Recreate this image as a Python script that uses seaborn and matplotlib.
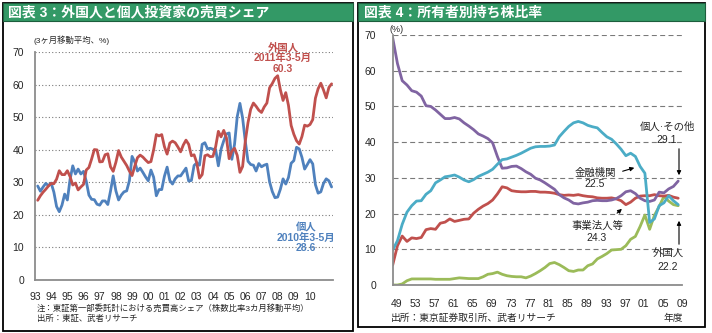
import numpy as np
import pandas as pd
import matplotlib
matplotlib.use("Agg")
import matplotlib.pyplot as plt
import seaborn as sns
from matplotlib.patches import Rectangle, FancyArrowPatch
from matplotlib.ticker import FixedLocator, NullFormatter

# ---------------- data ----------------
# Fig.3: TSE 1st section trading share, 3-month moving average (%), bimonthly from Mar 1993
share_start = "1993-03-01"
foreign_share = [
    24.5, 25.9, 27.0, 27.9, 28.9, 29.7, 29.6, 31.0, 33.6, 32.4,
    32.4, 33.6, 31.8, 29.2, 29.8, 27.7, 28.6, 29.4, 33.8, 34.6,
    37.2, 40.1, 40.0, 36.3, 36.4, 38.5, 38.8, 34.8, 33.4, 36.2,
    39.8, 37.8, 36.5, 35.2, 33.5, 32.1, 35.0, 37.6, 38.4, 37.8,
    36.9, 36.1, 36.4, 40.0, 44.7, 44.3, 44.7, 41.0, 38.7, 42.1,
    42.7, 42.2, 40.9, 39.4, 41.5, 43.0, 41.7, 38.2, 38.5, 36.0,
    31.3, 32.4, 38.2, 38.5, 37.9, 38.0, 41.0, 45.7, 44.0, 46.0,
    43.7, 37.3, 39.6, 40.5, 38.3, 33.1, 34.9, 42.7, 48.4, 52.5,
    54.4, 53.4, 52.2, 51.5, 53.2, 54.4, 59.1, 60.4, 62.0, 62.8,
    58.5, 55.2, 57.6, 53.7, 47.5, 44.8, 42.8, 41.8, 44.1, 47.6,
    47.3, 47.8, 49.3, 55.9, 58.8, 60.5, 58.4, 56.0, 59.2, 60.3,
]
individual_share = [
    28.9, 27.3, 28.6, 29.7, 29.0, 29.8, 27.0, 22.6, 21.0, 23.0,
    26.4, 24.6, 30.9, 35.1, 32.6, 34.1, 32.6, 33.4, 30.4, 26.1,
    24.8, 24.7, 23.3, 23.0, 24.3, 24.3, 23.2, 27.3, 32.0, 27.4,
    24.6, 26.1, 27.1, 27.4, 30.5, 38.0, 36.3, 33.5, 34.4, 33.1,
    31.7, 30.5, 33.8, 31.6, 25.9, 27.8, 27.8, 31.9, 34.7, 30.6,
    29.5, 31.1, 32.0, 32.0, 33.2, 34.4, 30.4, 30.6, 35.2, 36.0,
    35.3, 41.7, 42.2, 40.3, 40.5, 40.2, 40.1, 35.1, 40.2, 42.8,
    44.9, 45.2, 37.1, 41.7, 50.2, 54.3, 49.8, 42.6, 36.5, 35.5,
    35.3, 33.5, 35.8, 34.8, 35.3, 35.6, 30.2, 27.2, 25.3, 25.5,
    27.9, 31.1, 29.5, 31.5, 35.9, 36.7, 40.8, 40.3, 37.7, 34.1,
    35.5, 37.0, 35.7, 29.3, 26.7, 27.1, 29.7, 31.1, 30.5, 28.6,
]
share_tick_years = list(range(1993, 2011))
share_tick_labels = [f"{y % 100:02d}" for y in share_tick_years]

# Fig.4: share ownership ratio by owner type (%), fiscal years
own_years = list(range(1949, 2010))
own_individual = [
    69.2, 62.0, 57.2, 56.0, 54.4, 54.0, 52.9, 50.2, 50.0, 49.0,
    47.8, 46.6, 46.6, 46.9, 46.5, 45.4, 44.5, 43.5, 42.3, 41.7,
    41.0, 39.8, 36.0, 32.7, 32.8, 33.2, 33.3, 32.6, 31.7, 31.0,
    29.9, 29.4, 28.6, 27.7, 26.8, 25.3, 24.4, 23.8, 22.9, 22.7,
    23.0, 23.2, 23.6, 23.7, 23.6, 23.6, 23.8, 24.2, 25.0, 26.1,
    26.4, 25.6, 24.3, 23.6, 23.4, 23.8, 26.0, 25.8, 26.9, 27.6,
    29.1,
]
own_financial = [
    9.8, 12.4, 17.0, 20.4, 22.2, 23.5, 23.6, 25.4, 26.4, 28.6,
    29.4, 30.3, 30.5, 30.8, 30.2, 29.4, 28.9, 29.5, 30.4, 31.0,
    31.6, 32.4, 33.8, 35.1, 35.3, 35.8, 36.3, 36.9, 37.6, 38.3,
    38.7, 38.8, 38.8, 38.9, 39.2, 41.5, 43.0, 44.4, 45.4, 45.8,
    45.4, 44.7, 44.3, 44.0, 42.7, 41.5, 40.8, 39.5, 38.0, 36.2,
    36.9, 36.0, 33.2, 31.3, 17.5, 18.5, 22.2, 23.0, 25.0, 23.6,
    22.5,
]
own_corporate = [
    5.6, 11.0, 13.7, 12.2, 13.2, 13.0, 13.3, 15.5, 15.8, 15.6,
    17.3, 17.6, 18.5, 17.8, 18.1, 18.4, 18.5, 20.1, 21.2, 22.1,
    22.8, 23.8, 25.5, 27.5, 27.2, 26.4, 26.2, 26.1, 26.1, 26.2,
    26.2, 26.0, 26.0, 25.9, 25.7, 25.3, 25.1, 25.2, 25.1, 25.3,
    25.0, 24.8, 24.7, 24.4, 24.3, 24.3, 24.4, 24.1, 23.6, 22.5,
    23.2, 24.3, 24.9, 25.0, 25.0, 25.3, 25.0, 24.9, 25.1, 24.6,
    24.3,
]
own_foreign = [
    0.0, 0.0, 0.3, 1.2, 1.7, 1.7, 1.7, 1.7, 1.7, 1.6,
    1.6, 1.6, 1.6, 1.8, 2.0, 1.9, 1.8, 1.8, 1.8, 2.3,
    3.0, 3.2, 3.6, 3.0, 2.6, 2.4, 2.3, 2.3, 2.0, 2.5,
    3.2, 4.0, 4.9, 6.0, 6.3, 5.7, 4.9, 4.0, 3.8, 4.2,
    4.2, 5.4, 5.9, 7.3, 8.0, 8.8, 9.8, 9.9, 10.0, 11.0,
    12.8, 13.6, 16.4, 19.6, 15.6, 19.5, 22.0, 24.8, 23.5, 22.5,
    22.2,
]
own_tick_years = list(range(1949, 2010, 4))
own_tick_labels = [f"{y % 100:02d}" for y in own_tick_years]

# ---------------- style ----------------
sns.set_theme(style="white")
plt.rcParams["font.family"] = ["Liberation Sans", "Noto Sans CJK JP"]
plt.rcParams["axes.unicode_minus"] = False

RED = "#C0504D"
BLUE = "#4F81BD"
PURPLE = "#8064A2"
CYAN = "#4BACC6"
GREEN = "#9BBB59"
GRID = "#7a7a7a"
AXIS = "#8c8c8c"
BAR = "#339966"

W, H = 712, 333
fig = plt.figure(figsize=(W / 100, H / 100), dpi=100)
fig.patch.set_facecolor("white")


def fx(x):
    return x / W


def fy(y):
    return 1 - y / H


def panel(x0, x1, y0, y1, title):
    fig.patches.append(Rectangle((fx(x0), fy(y1)), (x1 - x0) / W, (y1 - y0) / H,
                                 transform=fig.transFigure, facecolor="white",
                                 edgecolor="black", lw=1.3, zorder=-2))
    fig.patches.append(Rectangle((fx(x0), fy(21)), (x1 - x0) / W, (21 - y0) / H,
                                 transform=fig.transFigure, facecolor=BAR,
                                 edgecolor="#1d5e3d", lw=0.8, zorder=-1))
    fig.text(fx(x0 + 6), fy(12.5), title, color="white", fontsize=10,
             fontweight="bold", ha="left", va="center")


panel(2.5, 352.5, 3, 331, "図表 3：外国人と個人投資家の売買シェア")
panel(358, 705, 3, 327, "図表 4：所有者別持ち株比率")

# ---------------- left: trading share ----------------
dates = pd.date_range(share_start, periods=len(foreign_share), freq="2MS")
t = dates.year + (dates.month - 1) / 12.0
share_df = pd.DataFrame({"t": t, "外国人": foreign_share, "個人": individual_share})

axL = fig.add_axes([fx(35), fy(280), (333 - 35) / W, (280 - 52.3) / H])
axL.set_facecolor("none")
sns.lineplot(data=share_df, x="t", y="個人", ax=axL, color=BLUE, lw=2.0, legend=False)
sns.lineplot(data=share_df, x="t", y="外国人", ax=axL, color=RED, lw=2.0, legend=False)
axL.set_xlim(1993.0, 2011.42)
axL.set_ylim(0, 70)
axL.set_yticks(range(0, 71, 10))
axL.set_xticks(share_tick_years)
axL.set_xticklabels(share_tick_labels)
axL.set_xlabel("")
axL.set_ylabel("")
axL.grid(axis="y", color=GRID, linestyle=(0, (1, 2)), lw=0.8)
axL.grid(axis="x", visible=False)
for s in ("top", "right"):
    axL.spines[s].set_visible(False)
for s in ("left", "bottom"):
    axL.spines[s].set_color(AXIS)
    axL.spines[s].set_linewidth(1.3)
axL.tick_params(axis="y", length=3, width=0.8, color=AXIS, pad=5, labelsize=7.5)
axL.tick_params(axis="x", length=3, width=0.8, color=AXIS, pad=6, labelsize=7.5,
                direction="out")

fig.text(fx(33), fy(40.5), "(3ヶ月移動平均、%)", fontsize=6, ha="left", va="center")
for i, line in enumerate(["外国人", "2011年3-5月", "60.3"]):
    fig.text(fx(283), fy(47 + 11 * i), line, color=RED, fontsize=7.5,
             fontweight="bold", ha="center", va="center")
for i, line in enumerate(["個人", "2010年3-5月", "28.6"]):
    fig.text(fx(306), fy(227 + 10.5 * i), line, color=BLUE, fontsize=7.5,
             fontweight="bold", ha="center", va="center")
fig.text(fx(37), fy(308.5), "注：東証第一部委託計における売買高シェア（株数比率3カ月移動平均）",
         fontsize=6, ha="left", va="center")
fig.text(fx(37), fy(319), "出所：東証、武者リサーチ", fontsize=6, ha="left", va="center")

# ---------------- right: ownership ratio ----------------
own_df = pd.DataFrame({"年度": own_years, "個人・その他": own_individual,
                       "金融機関": own_financial, "事業法人等": own_corporate,
                       "外国人": own_foreign})

axR = fig.add_axes([fx(392.7), fy(285), (682 - 392.7) / W, (285 - 35) / H])
axR.set_facecolor("none")
sns.lineplot(data=own_df, x="年度", y="外国人", ax=axR, color=GREEN, lw=2.0, legend=False)
sns.lineplot(data=own_df, x="年度", y="事業法人等", ax=axR, color=RED, lw=2.0, legend=False)
sns.lineplot(data=own_df, x="年度", y="個人・その他", ax=axR, color=PURPLE, lw=2.0, legend=False)
sns.lineplot(data=own_df, x="年度", y="金融機関", ax=axR, color=CYAN, lw=2.0, legend=False)
axR.set_xlim(1949, 2009.55)
axR.set_ylim(0, 70)
axR.set_yticks(range(0, 71, 10))
axR.set_xticks([y + 0.8 for y in own_tick_years])
axR.set_xticklabels(own_tick_labels)
axR.xaxis.set_minor_locator(FixedLocator(1949 + 4.88 * np.arange(13)))
axR.xaxis.set_minor_formatter(NullFormatter())
axR.set_xlabel("")
axR.set_ylabel("")
axR.grid(axis="y", color=GRID, linestyle=(0, (4.5, 3)), lw=0.8)
axR.grid(axis="x", visible=False)
for s in ("top", "right"):
    axR.spines[s].set_visible(False)
for s in ("left", "bottom"):
    axR.spines[s].set_color(AXIS)
    axR.spines[s].set_linewidth(1.3)
axR.tick_params(axis="y", length=0, pad=12, labelsize=7.5)
axR.tick_params(axis="x", which="major", length=0, pad=10, labelsize=7.5)
axR.tick_params(axis="x", which="minor", length=3, width=0.8, color=AXIS, direction="out")

fig.text(fx(397), fy(30), "(%)", fontsize=6.5, ha="center", va="center")
fig.text(fx(391), fy(317.5), "出所：東京証券取引所、武者リサーチ", fontsize=7,
         ha="left", va="center")
fig.text(fx(673), fy(317.5), "年度", fontsize=7, ha="center", va="center")


def note(lines, x, y, step=11.5):
    for i, line in enumerate(lines):
        fig.text(fx(x), fy(y + step * i), line, fontsize=7.5, ha="center", va="center")


def arrow(x0, y0, x1, y1):
    fig.add_artist(FancyArrowPatch(
        (fx(x0), fy(y0)), (fx(x1), fy(y1)), transform=fig.transFigure,
        arrowstyle="-|>", mutation_scale=6, lw=0.8, color="black"))


note(["個人·その他", "29.1"], 667, 127, 13)
arrow(679, 146, 679, 178)
note(["金融機関", "22.5"], 595, 173, 11)
arrow(620, 172, 637, 167)
note(["事業法人等", "24.3"], 597, 226, 12)
arrow(615, 215, 624, 207)
note(["外国人", "22.2"], 668, 253, 14)
arrow(679, 247, 679, 218)

fig.savefig("out.png", dpi=100, facecolor="white")
